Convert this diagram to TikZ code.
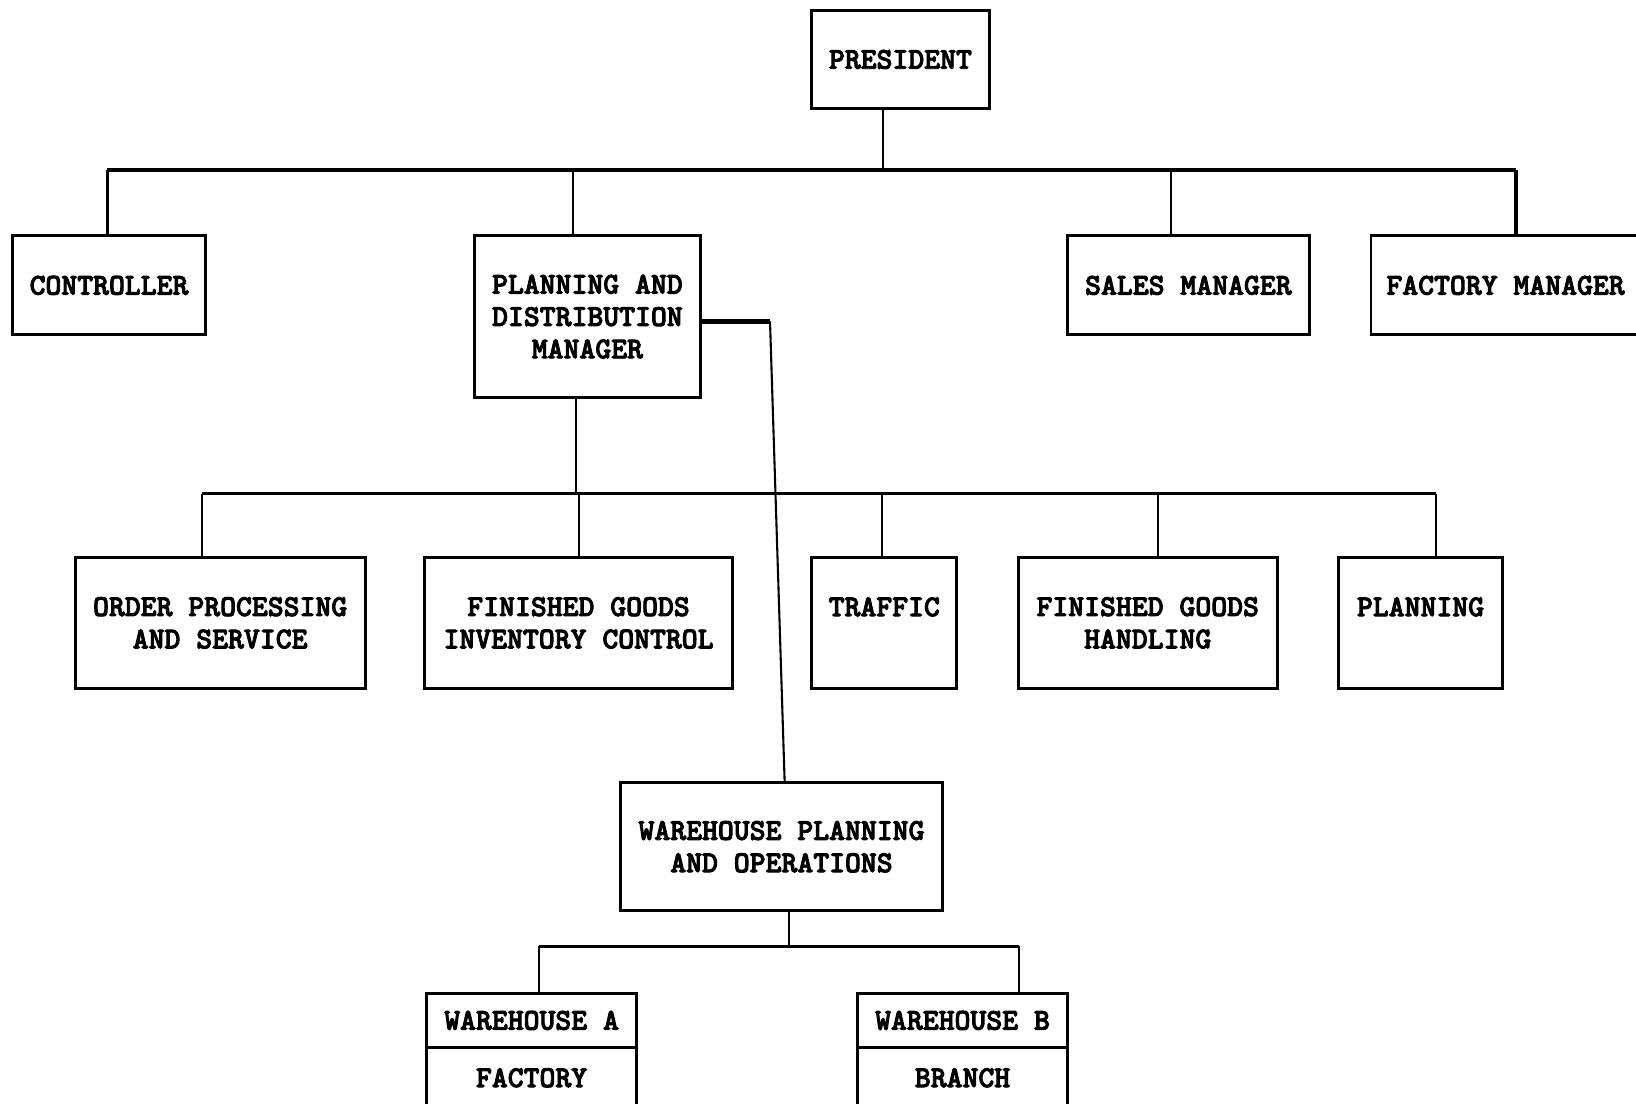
\documentclass[tikz,border=0pt]{standalone}
\usepackage{fontspec}
\newfontfamily\twfont{lmmonolt10-bold.otf}[FakeBold=3]
\begin{document}
\begin{tikzpicture}[x=1pt,y=-1pt,
  box/.style={draw, line width=2.8pt, rectangle, inner sep=0pt, align=center,
    font=\twfont\fontsize{29}{31}\selectfont},
  conn/.style={line width=2pt},
  bus/.style={line width=3.2pt},
  stub/.style={line width=4.5pt}]
\useasboundingbox (0,0) rectangle (1568,1058);
% boxes
\node[box, minimum width=170pt, minimum height=94pt] (pres) at (863,57) {PRESIDENT};
\node[box, minimum width=185pt, minimum height=95pt] (ctrl) at (104.5,273.5) {CONTROLLER};
\node[box, minimum width=216pt, minimum height=155pt] (pdm) at (563,303.5) {PLANNING AND\\DISTRIBUTION\\MANAGER};
\node[box, minimum width=232pt, minimum height=95pt] (sales) at (1139,273.5) {SALES MANAGER};
\node[box, minimum width=258pt, minimum height=95pt] (fact) at (1443,273.5) {FACTORY MANAGER};
\node[box, minimum width=278pt, minimum height=126pt] (ops) at (211,597) {ORDER PROCESSING\\AND SERVICE};
\node[box, minimum width=295pt, minimum height=126pt] (fgic) at (554.5,597) {FINISHED GOODS\\INVENTORY CONTROL};
\node[box, minimum width=139pt, minimum height=126pt] (traf) at (847.5,597) {TRAFFIC\\~};
\node[box, minimum width=248pt, minimum height=126pt] (fgh) at (1100,597) {FINISHED GOODS\\HANDLING};
\node[box, minimum width=157pt, minimum height=126pt] (plan) at (1361.5,597) {PLANNING\\~};
\node[box, minimum width=308pt, minimum height=123pt] (wpo) at (749,811.5) {WAREHOUSE PLANNING\\AND OPERATIONS};
\node[box, minimum width=201pt, minimum height=52pt] (whaT) at (509.5,978) {WAREHOUSE A};
\node[box, minimum width=201pt, minimum height=58pt] (whaB) at (509.5,1033) {FACTORY};
\node[box, minimum width=201pt, minimum height=52pt] (whbT) at (922.5,978) {WAREHOUSE B};
\node[box, minimum width=201pt, minimum height=58pt] (whbB) at (922.5,1033) {BRANCH};
% level 1 bus
\coordinate (b1) at (846,163);
\coordinate (d1a) at (103,163);
\coordinate (d1b) at (549,163);
\coordinate (d1c) at (1122,163);
\coordinate (d1d) at (1453,163);
\draw[conn] (pres.south -| b1) -- (b1);
\draw[bus] (d1a) -- (d1d);
\draw[conn] (d1a) -- (d1a |- ctrl.north);
\draw[conn] (d1b) -- (d1b |- pdm.north);
\draw[conn] (d1c) -- (d1c |- sales.north);
\draw[bus] (d1d) -- (d1d |- fact.north);
% level 2 bus
\coordinate (b2) at (552,473);
\coordinate (d2a) at (194,473);
\coordinate (d2b) at (555,473);
\coordinate (d2c) at (845,473);
\coordinate (d2d) at (1110,473);
\coordinate (d2e) at (1376,473);
\draw[conn] (pdm.south -| b2) -- (b2);
\draw[bus] (d2a) -- (d2e);
\draw[conn] (d2a) -- (d2a |- ops.north);
\draw[conn] (d2b) -- (d2b |- fgic.north);
\draw[conn] (d2c) -- (d2c |- traf.north);
\draw[conn] (d2d) -- (d2d |- fgh.north);
\draw[conn] (d2e) -- (d2e |- plan.north);
% side line to warehouse planning
\coordinate (k) at (738,308);
\coordinate (kw) at (752,750);
\draw[stub] (pdm.east |- k) -- (k);
\draw[conn] (k) -- (kw |- wpo.north);
% level 3 bus
\coordinate (b3) at (756,907);
\coordinate (d3a) at (517,907);
\coordinate (d3b) at (977,907);
\draw[conn] (wpo.south -| b3) -- (b3);
\draw[bus] (d3a) -- (d3b);
\draw[conn] (d3a) -- (d3a |- whaT.north);
\draw[conn] (d3b) -- (d3b |- whbT.north);
\end{tikzpicture}
\end{document}
